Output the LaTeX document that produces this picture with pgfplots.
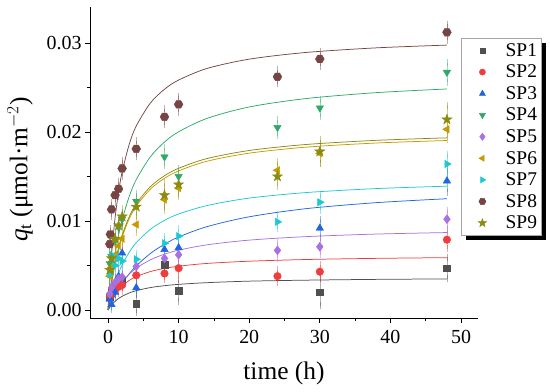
\documentclass[border=0pt]{standalone}
\usepackage{fontspec}
\setmainfont{Liberation Serif}
\usepackage{pgfplots}
\pgfplotsset{compat=1.18}
\usetikzlibrary{shadows}

\definecolor{c1}{HTML}{505050}
\definecolor{c2}{HTML}{F03C3C}
\definecolor{c3}{HTML}{1F64E0}
\definecolor{c4}{HTML}{2EAA68}
\definecolor{c5}{HTML}{A970E0}
\definecolor{c6}{HTML}{C89A00}
\definecolor{c7}{HTML}{1EC8D2}
\definecolor{c8}{HTML}{774444}
\definecolor{c9}{HTML}{8B8B10}

\pgfdeclareplotmark{hexagon*}{%
  \pgfpathmoveto{\pgfpointpolar{0}{1.1\pgfplotmarksize}}%
  \pgfpathlineto{\pgfpointpolar{60}{1.1\pgfplotmarksize}}%
  \pgfpathlineto{\pgfpointpolar{120}{1.1\pgfplotmarksize}}%
  \pgfpathlineto{\pgfpointpolar{180}{1.1\pgfplotmarksize}}%
  \pgfpathlineto{\pgfpointpolar{240}{1.1\pgfplotmarksize}}%
  \pgfpathlineto{\pgfpointpolar{300}{1.1\pgfplotmarksize}}%
  \pgfpathclose\pgfusepathqfillstroke}
\pgfdeclareplotmark{fstar*}{%
  \pgfpathmoveto{\pgfpointpolar{90}{1.25\pgfplotmarksize}}%
  \pgfpathlineto{\pgfpointpolar{126}{0.5\pgfplotmarksize}}%
  \pgfpathlineto{\pgfpointpolar{162}{1.25\pgfplotmarksize}}%
  \pgfpathlineto{\pgfpointpolar{198}{0.5\pgfplotmarksize}}%
  \pgfpathlineto{\pgfpointpolar{234}{1.25\pgfplotmarksize}}%
  \pgfpathlineto{\pgfpointpolar{270}{0.5\pgfplotmarksize}}%
  \pgfpathlineto{\pgfpointpolar{306}{1.25\pgfplotmarksize}}%
  \pgfpathlineto{\pgfpointpolar{342}{0.5\pgfplotmarksize}}%
  \pgfpathlineto{\pgfpointpolar{18}{1.25\pgfplotmarksize}}%
  \pgfpathlineto{\pgfpointpolar{54}{0.5\pgfplotmarksize}}%
  \pgfpathclose\pgfusepathqfillstroke}

\pgfplotsset{
  fitline/.style={no marks, smooth, line width=0.75pt, forget plot},
  pts/.style={only marks, mark size=3.8bp,
    error bars/y dir=both, error bars/y explicit,
    error bars/error bar style={line width=0.6pt, draw opacity=0.45},
    error bars/error mark options={line width=0.6pt, mark size=3.5bp, draw opacity=0.45}},
}

\begin{document}
\begin{tikzpicture}
\path (-90bp,-74bp) rectangle (460bp,318bp);
\begin{axis}[
  scale only axis,
  width=388bp, height=311bp,
  xmin=-2.55, xmax=52.4,
  ymin=-0.0009, ymax=0.03404,
  axis x line*=bottom, axis y line*=left,
  axis line style={line width=0.9pt},
  tick align=outside,
  major tick length=5bp, minor tick length=3bp,
  every tick/.style={line width=0.8pt, black},
  xtick={0,10,20,30,40,50},
  ytick={0,0.01,0.02,0.03},
  minor tick num=1,
  scaled y ticks=false,
  yticklabel style={/pgf/number format/.cd, fixed, fixed zerofill, precision=2},
  xticklabel style={yshift=-4bp},
  /pgf/number format/assume math mode=true,
  tick label style={font=\fontsize{20}{24}\selectfont},
  label style={font=\fontsize{25.5}{30}\selectfont},
  xlabel={time (h)},
  ylabel={\textit{q}\textsubscript{t} (μmol·m$^{-2}$)},
  ylabel style={yshift=7bp, xshift=-7bp},
  xlabel style={yshift=-11bp},
  legend style={at={(0.956,0.900)}, anchor=north west,
    draw=gray!70, line width=0.5pt, fill=white,
    font=\fontsize{19.5}{22}\selectfont,
    row sep=7.2bp, inner xsep=2bp, inner ysep=5bp,
    nodes={inner xsep=2bp, inner ysep=0bp},
    drop shadow={shadow xshift=5bp, shadow yshift=-5bp, fill=black, opacity=1},
    legend cell align=left},
  legend image code/.code={\path (0bp,0bp) (40bp,0bp); \draw[mark repeat=2, mark phase=2] plot coordinates {(0bp,0bp) (19bp,0bp) (40bp,0bp)};},
  legend image post style={/tikz/every mark/.append style={scale=0.8}},
]
% fitted curves
\addplot[fitline, c1] coordinates {(0,0) (0.25,0.00030) (0.5,0.00056) (1,0.00097) (1.5,0.00129) (2,0.00154) (3,0.00191) (4,0.00217) (6,0.00252) (8,0.00273) (10,0.00288) (14,0.00307) (20,0.00324) (28,0.00335) (38,0.00344) (48,0.00349)};
\addplot[fitline, c2] coordinates {(0,0) (0.25,0.00054) (0.5,0.00100) (1,0.00172) (1.5,0.00226) (2,0.00269) (3,0.00332) (4,0.00375) (6,0.00432) (8,0.00467) (10,0.00492) (14,0.00523) (20,0.00548) (28,0.00567) (38,0.00580) (48,0.00588)};
\addplot[fitline, c3] coordinates {(0,0) (0.25,0.00046) (0.5,0.00089) (1,0.00167) (1.5,0.00237) (2,0.00299) (3,0.00407) (4,0.00496) (6,0.00635) (8,0.00739) (10,0.00820) (14,0.00936) (20,0.01047) (28,0.01138) (38,0.01206) (48,0.01250)};
\addplot[fitline, c4] coordinates {(0,0) (0.25,0.00190) (0.5,0.00355) (1,0.00626) (1.5,0.00839) (2,0.01012) (3,0.01275) (4,0.01465) (6,0.01721) (8,0.01887) (10,0.02002) (14,0.02152) (20,0.02281) (28,0.02375) (38,0.02442) (48,0.02483)};
\addplot[fitline, c5] coordinates {(0,0) (0.25,0.00055) (0.5,0.00104) (1,0.00187) (1.5,0.00256) (2,0.00313) (3,0.00402) (4,0.00470) (6,0.00564) (8,0.00627) (10,0.00672) (14,0.00732) (20,0.00785) (28,0.00824) (38,0.00853) (48,0.00870)};
\addplot[fitline, c6] coordinates {(0,0) (0.25,0.00159) (0.5,0.00295) (1,0.00515) (1.5,0.00686) (2,0.00821) (3,0.01023) (4,0.01167) (6,0.01358) (8,0.01479) (10,0.01563) (14,0.01671) (20,0.01762) (28,0.01829) (38,0.01876) (48,0.01904)};
\addplot[fitline, c7] coordinates {(0,0) (0.25,0.00089) (0.5,0.00169) (1,0.00303) (1.5,0.00413) (2,0.00505) (3,0.00648) (4,0.00756) (6,0.00906) (8,0.01007) (10,0.01078) (14,0.01173) (20,0.01257) (28,0.01319) (38,0.01364) (48,0.01391)};
\addplot[fitline, c8] coordinates {(0,0) (0.25,0.00344) (0.5,0.00620) (1,0.01033) (1.5,0.01329) (2,0.01550) (3,0.01860) (4,0.02067) (6,0.02325) (8,0.02480) (10,0.02583) (14,0.02713) (20,0.02818) (28,0.02893) (38,0.02945) (48,0.02976)};
\addplot[fitline, c9] coordinates {(0,0) (0.25,0.00164) (0.5,0.00304) (1,0.00529) (1.5,0.00703) (2,0.00841) (3,0.01047) (4,0.01193) (6,0.01386) (8,0.01508) (10,0.01592) (14,0.01701) (20,0.01792) (28,0.01859) (38,0.01906) (48,0.01934)};
% data points
\addplot[pts, mark=square*, mark size=3.3bp, color=c1] coordinates {
 (0.25,0.0015) +- (0,0.0008) (0.5,0.0022) +- (0,0.0008) (1,0.0028) +- (0,0.0008) (2,0.0033) +- (0,0.0008)
 (4,0.0007) +- (0,0.0010) (8,0.0051) +- (0,0.0009) (10,0.0022) +- (0,0.0012) (30,0.0020) +- (0,0.0015) (48,0.0047) +- (0,0.0012)};
\addlegendentry{SP1}
\addplot[pts, mark=*, color=c2] coordinates {
 (0.25,0.0015) +- (0,0.0007) (0.5,0.0020) +- (0,0.0007) (1,0.0024) +- (0,0.0007) (1.5,0.0026) +- (0,0.0007) (2,0.0028) +- (0,0.0007)
 (4,0.0039) +- (0,0.0007) (8,0.0041) +- (0,0.0007) (10,0.0047) +- (0,0.0008) (24,0.0038) +- (0,0.0007) (30,0.0043) +- (0,0.0008) (48,0.0079) +- (0,0.0010)};
\addlegendentry{SP2}
\addplot[pts, mark=triangle*, mark size=4.3bp, color=c3] coordinates {
 (0.25,0.0012) +- (0,0.0006) (0.5,0.0006) +- (0,0.0006) (1,0.0020) +- (0,0.0007) (1.5,0.0038) +- (0,0.0007) (2,0.0064) +- (0,0.0007)
 (4,0.0025) +- (0,0.0007) (8,0.0068) +- (0,0.0008) (10,0.0070) +- (0,0.0008) (30,0.0092) +- (0,0.0010) (48,0.0145) +- (0,0.0013)};
\addlegendentry{SP3}
\addplot[pts, mark=triangle*, mark size=4.3bp, mark options={rotate=180}, color=c4] coordinates {
 (0.25,0.0052) +- (0,0.0008) (0.5,0.0060) +- (0,0.0008) (1,0.0078) +- (0,0.0008) (1.5,0.0093) +- (0,0.0008) (2,0.0102) +- (0,0.0008)
 (4,0.0122) +- (0,0.0009) (8,0.0172) +- (0,0.0010) (10,0.0150) +- (0,0.0009) (24,0.0205) +- (0,0.0009) (30,0.0227) +- (0,0.0010) (48,0.0267) +- (0,0.0011)};
\addlegendentry{SP4}
\addplot[pts, mark=diamond*, mark size=4.5bp, color=c5] coordinates {
 (0.25,0.0018) +- (0,0.0007) (0.5,0.0025) +- (0,0.0007) (1,0.0031) +- (0,0.0007) (1.5,0.0035) +- (0,0.0007) (2,0.0037) +- (0,0.0007)
 (4,0.0049) +- (0,0.0007) (8,0.0058) +- (0,0.0008) (10,0.0062) +- (0,0.0008) (24,0.0067) +- (0,0.0009) (30,0.0071) +- (0,0.0009) (48,0.0102) +- (0,0.0010)};
\addlegendentry{SP5}
\addplot[pts, mark=triangle*, mark size=4.3bp, mark options={rotate=90}, color=c6] coordinates {
 (0.25,0.0038) +- (0,0.0008) (0.5,0.0048) +- (0,0.0008) (1,0.0062) +- (0,0.0008) (1.5,0.0072) +- (0,0.0008) (2,0.0080) +- (0,0.0008)
 (4,0.0096) +- (0,0.0009) (8,0.0124) +- (0,0.0012) (10,0.0137) +- (0,0.0010) (24,0.0157) +- (0,0.0010) (30,0.0176) +- (0,0.0011) (48,0.0203) +- (0,0.0012)};
\addlegendentry{SP6}
\addplot[pts, mark=triangle*, mark size=4.3bp, mark options={rotate=-90}, color=c7] coordinates {
 (0.25,0.0040) +- (0,0.0007) (0.5,0.0062) +- (0,0.0007) (1,0.0050) +- (0,0.0007) (1.5,0.0058) +- (0,0.0007) (2,0.0055) +- (0,0.0007)
 (4,0.0057) +- (0,0.0007) (8,0.0075) +- (0,0.0008) (10,0.0083) +- (0,0.0008) (24,0.0099) +- (0,0.0008) (30,0.0121) +- (0,0.0009) (48,0.0164) +- (0,0.0011)};
\addlegendentry{SP7}
\addplot[pts, mark=hexagon*, mark size=4bp, color=c8] coordinates {
 (0.25,0.0074) +- (0,0.0007) (0.33,0.0085) +- (0,0.0007) (0.5,0.0113) +- (0,0.0008) (1,0.0129) +- (0,0.0008) (1.5,0.0136) +- (0,0.0008) (2,0.0159) +- (0,0.0009)
 (4,0.0181) +- (0,0.0009) (8,0.0217) +- (0,0.0009) (10,0.0231) +- (0,0.0009) (24,0.0262) +- (0,0.0008) (30,0.0282) +- (0,0.0008) (48,0.0312) +- (0,0.0009)};
\addlegendentry{SP8}
\addplot[pts, mark=fstar*, mark size=4.3bp, color=c9] coordinates {
 (0.25,0.0045) +- (0,0.0008) (0.5,0.0058) +- (0,0.0008) (1,0.0080) +- (0,0.0008) (1.5,0.0095) +- (0,0.0008) (2,0.0105) +- (0,0.0009)
 (4,0.0116) +- (0,0.0010) (8,0.0129) +- (0,0.0014) (10,0.0141) +- (0,0.0011) (24,0.0150) +- (0,0.0011) (30,0.0178) +- (0,0.0013) (48,0.0214) +- (0,0.0016)};
\addlegendentry{SP9}
\end{axis}
\end{tikzpicture}
\end{document}
